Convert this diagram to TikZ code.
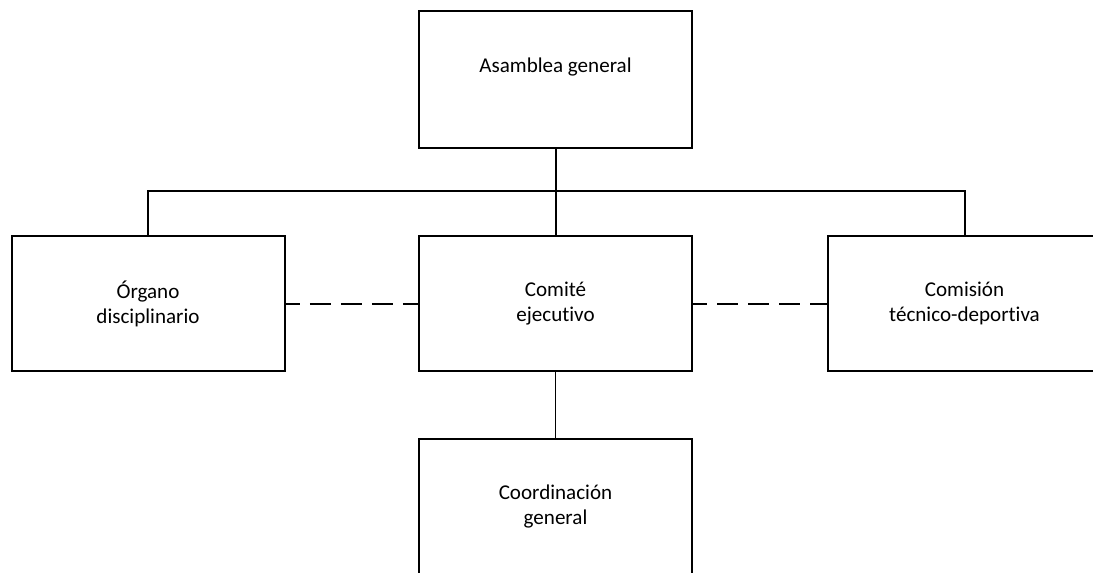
\documentclass[tikz,border=0pt]{standalone}
\usepackage{fontspec}
\setmainfont{Carlito}[Ligatures=NoCommon]
\begin{document}
\begin{tikzpicture}[x=0.75pt,y=-0.75pt,
  unit box/.style={draw=black,line width=1.5pt,fill=white,rectangle,
    minimum width=204.75pt,minimum height=101.25pt,inner sep=0pt,
    align=center,font=\fontsize{15.8}{18.75}\selectfont},
  caption/.style={inner sep=0pt,font=\fontsize{15.8}{18.75}\selectfont},
  link/.style={draw=black,line width=1.5pt},
  thin link/.style={draw=black,line width=1pt},
  dashed link/.style={draw=black,line width=1.5pt,dash pattern=on 15.75pt off 7.5pt,dash phase=5pt}]
  \useasboundingbox (0,0) rectangle (1093,572);

  % organ boxes
  \node[unit box,minimum height=102.75pt] (asm) at (555.5,79.5) {};
  \node[caption] (asmtext) at (555.5,67) {Asamblea general};
  \node[unit box] (org) at (148,303.5) {Órgano\\disciplinario};
  \node[unit box] (com) at (555.5,303.5) {Comité\\ejecutivo};
  \node[unit box] (cmt) at (964.5,303.5) {Comisión\\técnico-deportiva};
  \node[unit box] (coo) at (555.5,506.5) {Coordinación\\general};

  % hierarchy connectors
  \coordinate (bus) at (555.5,191);
  \draw[link] (asm.south) -- (com.north);
  \draw[link] (org.north) |- (bus) -| (cmt.north);
  \draw[thin link] (com.south) -- (coo.north);

  % coordination links
  \draw[dashed link] (org.east) -- (com.west);
  \draw[dashed link] (com.east) -- (cmt.west);
\end{tikzpicture}
\end{document}
